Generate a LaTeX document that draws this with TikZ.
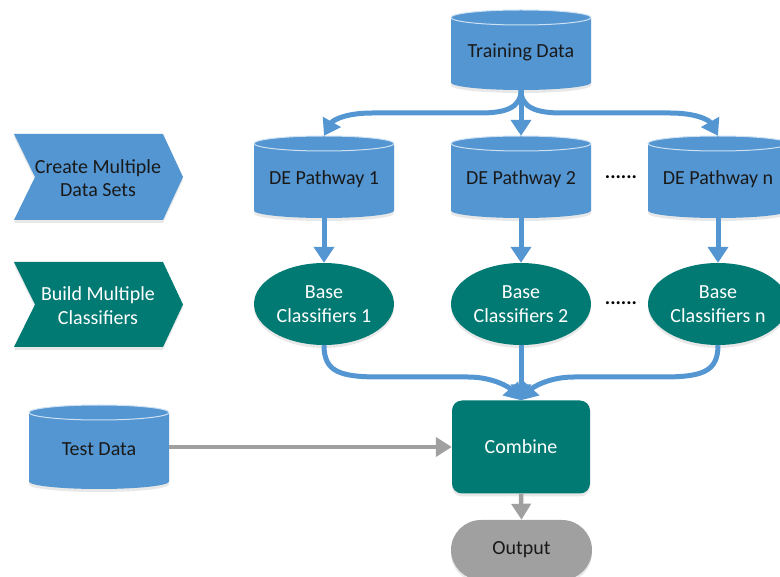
\documentclass[tikz,border=0pt]{standalone}
\usepackage{fontspec}
\setmainfont{Carlito}
\usetikzlibrary{arrows.meta,shadows,shapes.geometric}

\definecolor{dsblue}{RGB}{84,150,210}
\definecolor{dsteal}{RGB}{0,122,115}
\definecolor{dsgray}{RGB}{160,160,160}
\definecolor{dsrim}{RGB}{205,225,243}
\definecolor{dsink}{RGB}{25,25,25}

\tikzset{
  softshadow/.style={drop shadow={opacity=0.18, shadow xshift=0pt, shadow yshift=-3pt}},
  label text/.style={align=center, inner sep=0pt},
  blueflow/.style={draw=dsblue, line width=5pt, -{Triangle[width=20pt,length=16pt]}},
  grayflow/.style={draw=dsgray, line width=4.5pt, -{Triangle[width=19pt,length=16pt]}},
  classifier/.style={ellipse, fill=dsteal, text=white, align=center, inner sep=0pt,
    minimum width=140pt, minimum height=82pt, softshadow},
}

% database cylinder: name, centre x, top y, height, text
\newcommand\dbcyl[5]{%
  \fill[dsblue, softshadow] (#2-70,#3+7.5) -- (#2-70,#3+#4-7.5)
    arc[start angle=180, end angle=0, x radius=70, y radius=7.5]
    -- (#2+70,#3+7.5)
    arc[start angle=0, end angle=-180, x radius=70, y radius=7.5] -- cycle;
  \draw[dsrim, line width=1pt] (#2,#3+7.5) ellipse[x radius=70, y radius=7.5];
  \node[label text, text=dsink, minimum width=140pt, minimum height=#4pt]
    (#1) at (#2,#3+#4/2) {};
  \node[label text, text=dsink] at (#2,#3+#4/2+2.5) {#5};%
}

\begin{document}
\begin{tikzpicture}[x=1pt, y=-1pt, font=\fontsize{20}{23.5}\selectfont]
\useasboundingbox (0,0) rectangle (780,577);
\clip (0,0) rectangle (780,577);

% stage banners
\fill[dsblue, softshadow] (14,134) -- (163,134) -- (183,177) -- (163,220) -- (14,220) -- (35,177) -- cycle;
\node[label text, text=dsink] (stage1) at (98,178) {Create Multiple\\Data Sets};
\fill[dsteal, softshadow] (14,262) -- (163,262) -- (183,304.5) -- (163,347) -- (14,347) -- (35,304.5) -- cycle;
\node[label text, text=white] (stage2) at (98,305.5) {Build Multiple\\Classifiers};

% data stores
\dbcyl{td}{521}{10}{80}{Training Data}
\dbcyl{de1}{324}{136}{82}{DE Pathway 1}
\dbcyl{de2}{521}{136}{82}{DE Pathway 2}
\dbcyl{den}{718}{136}{82}{DE Pathway n}
\dbcyl{test}{99}{405}{84}{Test Data}

% classifiers
\node[classifier] (b1) at (324,304) {Base\\Classifiers 1};
\node[classifier] (b2) at (521,304) {Base\\Classifiers 2};
\node[classifier] (bn) at (718,304) {Base\\Classifiers n};

\node[anchor=base, inner sep=0pt, font=\fontsize{20}{23.5}\selectfont\bfseries] (dots1) at (621,179) {......};
\node[anchor=base, inner sep=0pt, font=\fontsize{20}{23.5}\selectfont\bfseries] (dots2) at (621,305) {......};

% combining and output
\node[fill=dsteal, text=white, rounded corners=10pt, minimum width=138pt,
  minimum height=93pt, softshadow] (cmb) at (521,447) {Combine};
\node[fill=dsgray, text=dsink, rounded corners=30pt, minimum width=141pt,
  minimum height=60pt, softshadow] (out) at (521.5,550) {Output};

% training data fan-out
\draw[blueflow] (td.south) -- (de2.north);
\draw[blueflow] (td.south) .. controls (521,108) and (505,113) .. (480,113) -- (372,113)
  .. controls (346,113) and (333,120) .. (de1.north);
\draw[blueflow] (td.south) .. controls (521,108) and (537,113) .. (562,113) -- (670,113)
  .. controls (696,113) and (709,120) .. (den.north);

% data sets to classifiers
\draw[blueflow] (de1.south) -- (b1.north);
\draw[blueflow] (de2.south) -- (b2.north);
\draw[blueflow] (den.south) -- (bn.north);

% classifiers to combine
\draw[blueflow] (b2.south) -- (cmb.north);
\draw[blueflow] (b1.south) .. controls (324,372) and (340,377) .. (380,377) -- (468,377)
  .. controls (494,377) and (510,388) .. (cmb.north);
\draw[blueflow] (bn.south) .. controls (718,372) and (702,377) .. (662,377) -- (574,377)
  .. controls (548,377) and (532,388) .. (cmb.north);

% test data and output
\draw[grayflow] (test.east) -- (cmb.west);
\draw[grayflow] (cmb.south) -- (out.north);
\end{tikzpicture}
\end{document}
